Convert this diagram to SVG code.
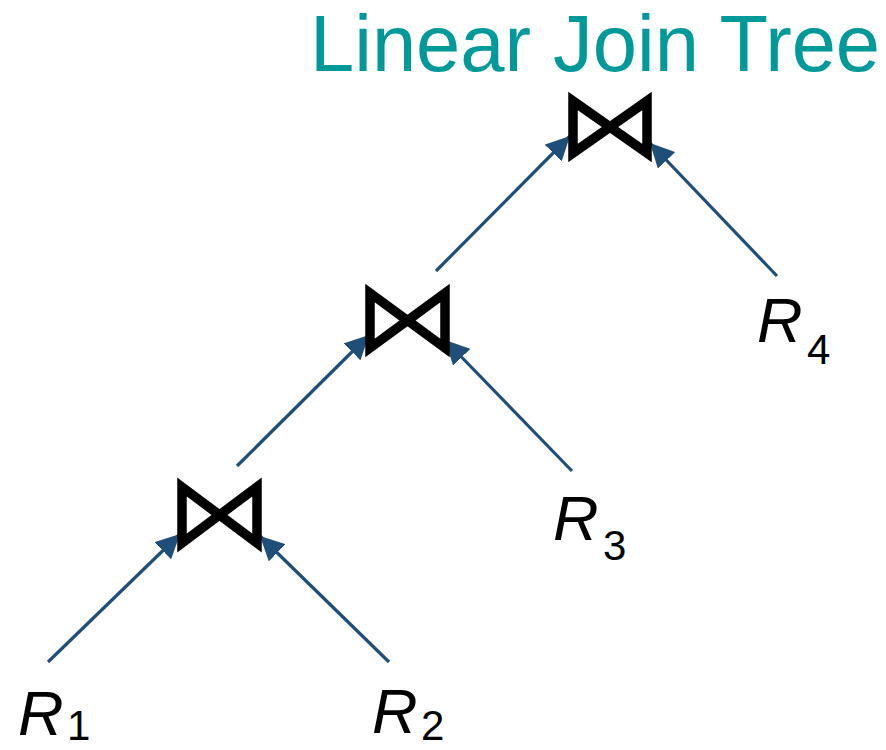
<svg xmlns="http://www.w3.org/2000/svg" width="886" height="750" viewBox="0 0 886 750">
<defs>
<marker id="arr" markerUnits="userSpaceOnUse" markerWidth="26" markerHeight="24" refX="24" refY="12" orient="auto">
<path d="M0,0 L24,12 L0,24 Z" fill="#1f4e79"/>
</marker>
<style>
.edge{stroke:#1f4e79;stroke-width:3.2;fill:none;marker-end:url(#arr)}
.join{fill:none;stroke:#000;stroke-width:9.5;stroke-linejoin:miter;stroke-miterlimit:10}
.rel{font-family:"Liberation Sans",Arial,sans-serif;font-style:italic;font-size:63px;fill:#000}
.sub{font-family:"Liberation Sans",Arial,sans-serif;font-size:42px;fill:#000}
.title{font-family:"Liberation Sans",Arial,sans-serif;font-size:79.5px;fill:#009999}
</style>
</defs>
<text class="title" x="310" y="71">Linear Join Tree</text>
<g id="connectors">
<line class="edge" x1="48" y1="662" x2="180" y2="534"/>
<line class="edge" x1="389" y1="662" x2="260" y2="536"/>
<line class="edge" x1="237" y1="466" x2="369" y2="335"/>
<line class="edge" x1="572" y1="471" x2="445" y2="340"/>
<line class="edge" x1="436" y1="271" x2="570" y2="136"/>
<line class="edge" x1="777" y1="276" x2="650" y2="143"/>
</g>
<g id="join1"><polygon class="join" points="573,101 610,127 647,101 647,153 610,127 573,153"/></g>
<g id="join2"><polygon class="join" points="370,293 407.5,320.5 445,293 445,348 407.5,320.5 370,348"/></g>
<g id="join3"><polygon class="join" points="182,487 219.5,515 257,487 257,543 219.5,515 182,543"/></g>
<g id="R1"><text class="rel" x="18" y="735">R</text><text class="sub" x="67" y="740">1</text></g>
<g id="R2"><text class="rel" x="372" y="733">R</text><text class="sub" x="421" y="740">2</text></g>
<g id="R3"><text class="rel" x="553" y="540">R</text><text class="sub" x="603" y="560">3</text></g>
<g id="R4"><text class="rel" x="757" y="342">R</text><text class="sub" x="807" y="364">4</text></g>
</svg>
